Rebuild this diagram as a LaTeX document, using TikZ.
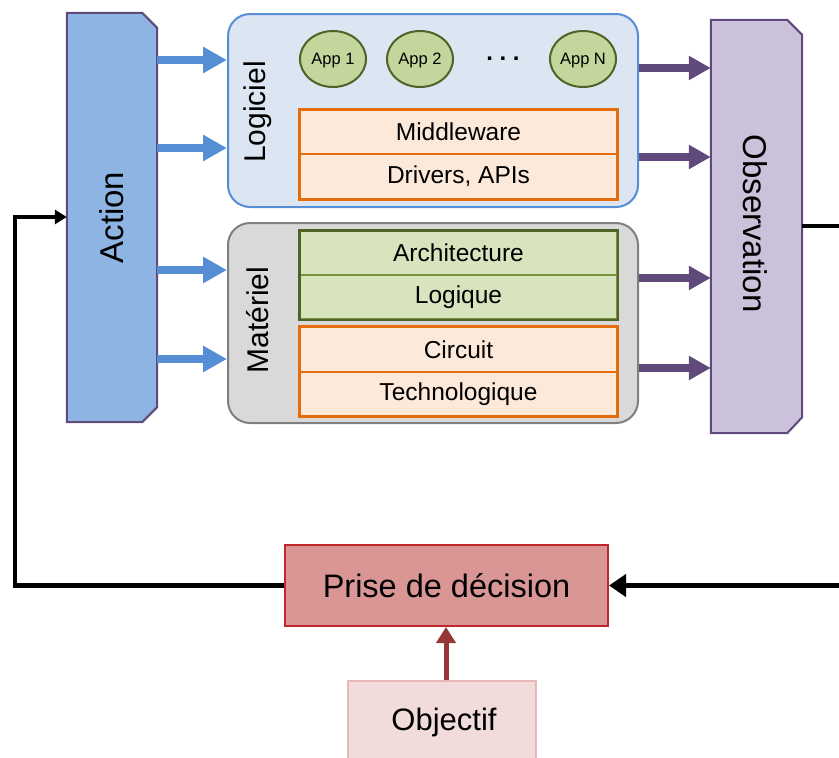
\documentclass[tikz,border=0pt]{standalone}
\usepackage{fontspec}
\setmainfont{Liberation Sans}
\usetikzlibrary{arrows.meta,shapes.geometric}
\definecolor{actfill}{HTML}{8EB4E3}
\definecolor{obsfill}{HTML}{CCC1DA}
\definecolor{purp}{HTML}{604A7B}
\definecolor{blu}{HTML}{558ED5}
\definecolor{logfill}{HTML}{DCE6F2}
\definecolor{logdraw}{HTML}{558ED5}
\definecolor{matfill}{HTML}{D9D9D9}
\definecolor{matdraw}{HTML}{7F7F7F}
\definecolor{appfill}{HTML}{C3D69B}
\definecolor{olive}{HTML}{4F6228}
\definecolor{olivelt}{HTML}{77933C}
\definecolor{orfill}{HTML}{FDE9D9}
\definecolor{ordraw}{HTML}{E46C0A}
\definecolor{grfill}{HTML}{D7E4BD}
\definecolor{prfill}{HTML}{D99694}
\definecolor{prdraw}{HTML}{C0272D}
\definecolor{objfill}{HTML}{F2DCDB}
\definecolor{objdraw}{HTML}{E6B9B8}
\definecolor{redarr}{HTML}{953735}
\newcommand{\fs}[1]{\fontsize{#1}{#1}\selectfont}
\begin{document}
\begin{tikzpicture}[x=1pt,y=-1pt,
  layer/.style={rounded corners=22pt, line width=2pt, inner sep=0pt},
  cell/.style={minimum width=317pt, minimum height=44pt, inner sep=0pt, line width=1.5pt, font=\fs{24.5}},
  appnode/.style={ellipse, fill=appfill, draw=olive, line width=2pt, minimum width=66pt, minimum height=56pt, inner sep=0pt, font=\fs{16.5}, text height=11.8pt, text depth=0pt},
  bluarrow/.style={draw=blu, line width=8pt, -{Triangle[length=24pt,width=25pt]}, blu},
  purarrow/.style={draw=purp, line width=8pt, -{Triangle[length=22pt,width=23pt]}, purp},
  loopline/.style={draw=black, line width=4.5pt},
  sidelabel/.style={rotate=90, font=\fs{30}, inner sep=0pt}
]
\useasboundingbox (0,0) rectangle (839,758);

% Action
\node[minimum width=90pt, minimum height=409pt, inner sep=0pt] (action) at (112,217.5) {};
\draw[fill=actfill, draw=purp, line width=2pt]
  (action.north west) -- ([xshift=-15pt]action.north east) -- ([yshift=-15pt]action.north east)
  -- ([yshift=15pt]action.south east) -- ([xshift=-15pt]action.south east) -- (action.south west) -- cycle;
\node[rotate=90, font=\fs{33}] at (action.center) {Action};

% Observation
\node[minimum width=91pt, minimum height=413pt, inner sep=0pt] (obs) at (756.5,226.5) {};
\draw[fill=obsfill, draw=purp, line width=2pt]
  (obs.north west) -- ([xshift=-15pt]obs.north east) -- ([yshift=-15pt]obs.north east)
  -- ([yshift=16pt]obs.south east) -- ([xshift=-15pt]obs.south east) -- (obs.south west) -- cycle;
\node[rotate=-90, font=\fs{33}] at ([xshift=-1pt,yshift=3pt]obs.center) {Observation};

% Logiciel
\node[layer, fill=logfill, draw=logdraw, minimum width=410pt, minimum height=193pt] (logi) at (433,110.5) {};
\node[sidelabel] (logilab) at (258,112) {Logiciel};
\node[appnode] (app1) at (333,59) {App 1};
\node[appnode] (app2) at (420,59) {App 2};
\node[appnode] (appn) at (583,59) {App N};
\node[font=\bfseries\fs{24}, inner sep=0pt] (dots) at (503,58.5) {.\ .\ .};
\node[cell, fill=orfill, draw=ordraw] (mw) at (458.5,132) {Middleware};
\node[cell, fill=orfill, draw=ordraw, minimum height=45pt] (drv) at (458.5,176.5) {Drivers, APIs};
\draw[draw=ordraw, line width=2.5pt] (mw.north west) rectangle (drv.south east);

% Materiel
\node[layer, fill=matfill, draw=matdraw, minimum width=410pt, minimum height=200pt] (mat) at (433,323) {};
\node[sidelabel] (matlab) at (258,320) {Matériel};
\node[cell, fill=grfill, draw=olivelt] (arch) at (458.5,253) {Architecture};
\node[cell, fill=grfill, draw=olivelt] (logq) at (458.5,297) {Logique};
\draw[draw=olive, line width=2.5pt] (arch.north west) rectangle (logq.south east);
\node[cell, fill=orfill, draw=ordraw, minimum height=45pt] (circ) at (458.5,349.5) {Circuit};
\node[cell, fill=orfill, draw=ordraw] (tech) at (458.5,394) {Technologique};
\draw[draw=ordraw, line width=2.5pt] (circ.north west) rectangle (tech.south east);

% Action -> layers
\draw[bluarrow] (action.east |- 0,60) -- (logi.west |- 0,60);
\draw[bluarrow] (action.east |- 0,148) -- (logi.west |- 0,148);
\draw[bluarrow] (action.east |- 0,270) -- (mat.west |- 0,270);
\draw[bluarrow] (action.east |- 0,359) -- (mat.west |- 0,359);

% layers -> Observation
\draw[purarrow] (logi.east |- 0,68) -- (obs.west |- 0,68);
\draw[purarrow] (logi.east |- 0,157) -- (obs.west |- 0,157);
\draw[purarrow] (mat.east |- 0,278) -- (obs.west |- 0,278);
\draw[purarrow] (mat.east |- 0,368) -- (obs.west |- 0,368);

% Decision
\node[fill=prfill, draw=prdraw, line width=2pt, minimum width=323pt, minimum height=81pt, inner sep=0pt, font=\fs{32.5}] (prise) at (446.5,585.5) {Prise de décision};
\node[fill=objfill, draw=objdraw, line width=2pt, minimum width=188pt, minimum height=84pt, inner sep=0pt] (obj) at (442,723) {};
\node[font=\fs{31}, inner sep=0pt] (objlab) at (444,722) {Objectif};
\draw[draw=redarr, line width=5pt, -{Triangle[length=16pt,width=19pt]}, redarr] (obj.north -| 446,0) -- (prise.south -| 446,0);

% feedback loop
\coordinate (outR) at (845,226);
\coordinate (inR) at (845,585.5);
\coordinate (cBL) at (15,585.5);
\coordinate (cTL) at (15,217);
\draw[loopline] (obs.east |- outR) -- (outR);
\draw[loopline, -{Triangle[length=17pt,width=22pt]}] (inR) -- (prise.east);
\draw[loopline, line join=miter, -{Triangle[length=12pt,width=14pt]}] (prise.west) -- (cBL) -- (cTL) -- (action.west |- cTL);
\end{tikzpicture}
\end{document}
